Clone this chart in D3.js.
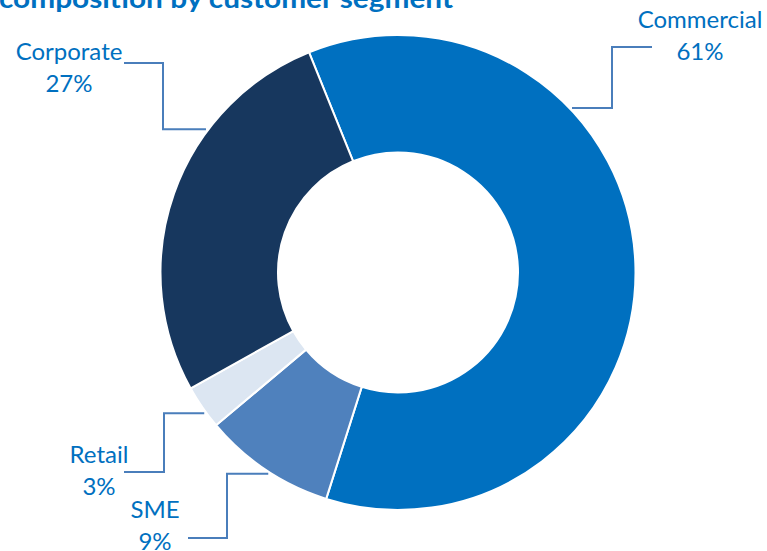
<!DOCTYPE html>
<html>
<head>
<meta charset="utf-8">
<script src="https://cdn.jsdelivr.net/npm/d3@7"></script>
<style>
  html, body { margin: 0; padding: 0; background: #ffffff; }
  svg { display: block; }
  text { font-family: "Lato", "Open Sans", sans-serif; }
</style>
</head>
<body>
<svg id="chart" width="767" height="551"></svg>
<script>
// Loan book split by customer segment (shares in %)
const segments = ["Commercial", "SME", "Retail", "Corporate"];
const shares   = [61, 9, 3, 27];
const colors   = ["#0070C0", "#4F81BD", "#DCE6F2", "#17375E"];

const titleText = "composition by customer segment";

const width = 767, height = 551;
const cx = 398, cy = 272.5;
const outerR = 237.5, innerR = 120;
const startDeg = -22;

const svg = d3.select("#chart");

// Title, partly running off the top edge
const title = svg.append("text")
  .attr("x", -1)
  .attr("y", 8)
  .attr("fill", "#0070C0")
  .attr("font-weight", "bold")
  .attr("font-size", 26)
  .text(titleText);
title.attr("textLength", 454).attr("lengthAdjust", "spacingAndGlyphs");

const data = segments.map((s, i) => ({ name: s, value: shares[i], color: colors[i] }));

const pie = d3.pie()
  .value(d => d.value)
  .sort(null)
  .startAngle(startDeg * Math.PI / 180)
  .endAngle(startDeg * Math.PI / 180 + 2 * Math.PI);

const arc = d3.arc().innerRadius(innerR).outerRadius(outerR);

const arcs = pie(data);

const g = svg.append("g").attr("transform", `translate(${cx},${cy})`);

g.selectAll("path.slice")
  .data(arcs)
  .join("path")
  .attr("class", "slice")
  .attr("d", arc)
  .attr("fill", d => d.data.color)
  .attr("stroke", "#ffffff")
  .attr("stroke-width", 2)
  .attr("stroke-linejoin", "miter");

// Label placement: where the leader leaves the ring, the elbow, and the text block
const labelLayout = {
  Commercial: { angle: 46.6, elbowX: 612, topY: 47,  endX: 652, textX: 700, textY: 28 },
  Corporate:  { angle: -53.3, elbowX: 163, topY: 63, endX: 124, textX: 69,  textY: 60 },
  Retail:     { angle: 234,  elbowX: 164, topY: 472, endX: 124, textX: 99,  textY: 463 },
  SME:        { angle: 212.8, elbowX: 227, topY: 538, endX: 188, textX: 155, textY: 518 }
};

const lineGen = d3.line();

arcs.forEach(a => {
  const L = labelLayout[a.data.name];
  const rad = L.angle * Math.PI / 180;
  const r0 = outerR + 2;
  const sx = cx + r0 * Math.sin(rad);
  const sy = cy - r0 * Math.cos(rad);
  const pts = [[sx, sy], [L.elbowX, sy], [L.elbowX, L.topY], [L.endX, L.topY]];
  svg.append("path")
    .attr("d", lineGen(pts))
    .attr("fill", "none")
    .attr("stroke", "#4A7EBB")
    .attr("stroke-width", 2);

  const t = svg.append("text")
    .attr("x", L.textX)
    .attr("y", L.textY)
    .attr("text-anchor", "middle")
    .attr("fill", "#0070C0")
    .attr("font-size", 24);
  t.append("tspan").attr("x", L.textX).text(a.data.name);
  t.append("tspan").attr("x", L.textX).attr("dy", 32).text(a.data.value + "%");
});
</script>
</body>
</html>
